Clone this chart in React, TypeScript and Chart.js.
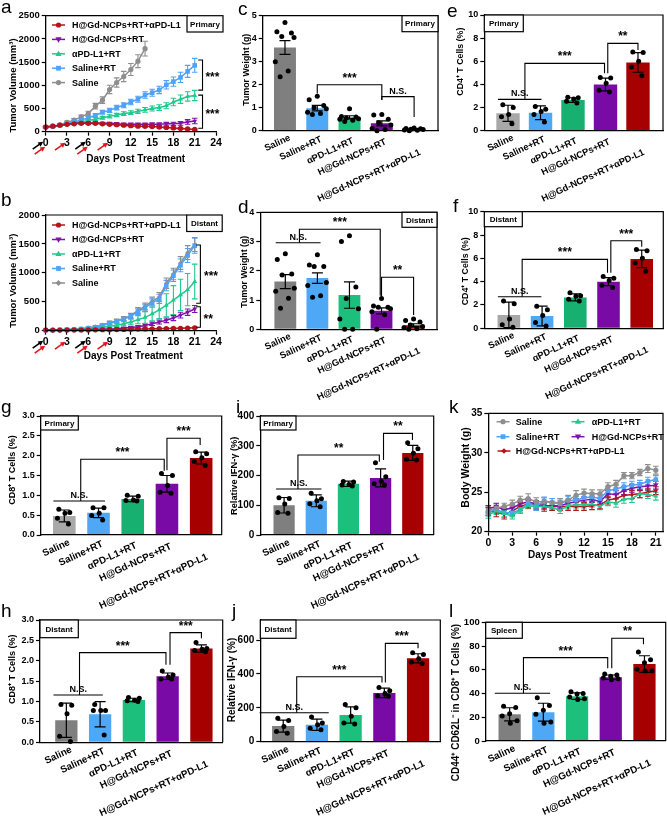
import React, { useEffect, useRef } from 'react';
import { Chart, registerables } from 'chart.js';

Chart.register(...registerables);

const FONT = "'Liberation Sans', Arial, Helvetica, sans-serif";
Chart.defaults.font.family = FONT;
Chart.defaults.color = '#000';

// ---------------- categories & ticks ----------------
const groups = ['Saline', 'Saline+RT', 'αPD-L1+RT', 'H@Gd-NCPs+RT', 'H@Gd-NCPs+RT+αPD-L1'];
const days = [0, 1, 2, 3, 4, 5, 6, 7, 8, 9, 10, 11, 12, 13, 14, 15, 16, 17, 18, 19, 20, 21];
const tumorDayTicks = [0, 3, 6, 9, 12, 15, 18, 21, 24];
const weightDayTicks = [0, 3, 6, 9, 12, 15, 18, 21];
const aYTicks = [0, 500, 1000, 1500, 2000, 2500];
const bYTicks = [0, 500, 1000, 1500, 2000];
const cYTicks = [0, 1, 2, 3, 4, 5];
const dYTicks = [0, 1, 2, 3, 4];
const cd4Ticks = [0, 2, 4, 6, 8, 10];
const cd8Ticks = [0, 0.5, 1, 1.5, 2, 2.5, 3];
const iYTicks = [0, 100, 200, 300, 400];
const jYTicks = [0, 200, 400, 600];
const kYTicks = [20, 25, 30, 35];
const lYTicks = [0, 20, 40, 60, 80, 100];
const blackArrowDays = [0, 6];
const redArrowDays = [0, 3, 6, 9];

// ---------------- panel a: primary tumor volume ----------------
const aCombo = [100, 120, 140, 160, 170, 180, 180, 180, 170, 160, 150, 140, 130, 120, 115, 110, 100, 90, 80, 70, 60, 50];
const aComboErr = [15, 15, 15, 15, 20, 20, 20, 20, 20, 20, 20, 20, 20, 20, 20, 20, 20, 20, 20, 20, 15, 15];
const aNCP = [100, 120, 140, 160, 180, 190, 190, 190, 180, 180, 170, 160, 160, 160, 160, 160, 160, 170, 170, 180, 210, 230];
const aNCPErr = [15, 15, 15, 20, 20, 20, 25, 25, 25, 25, 25, 25, 25, 25, 25, 30, 30, 30, 35, 40, 50, 60];
const aAPD = [100, 115, 135, 160, 190, 210, 240, 270, 300, 330, 360, 390, 410, 440, 470, 500, 520, 560, 640, 700, 760, 780];
const aAPDErr = [15, 15, 15, 20, 20, 25, 25, 30, 30, 35, 35, 40, 40, 45, 50, 55, 60, 65, 80, 90, 100, 110];
const aSalRT = [100, 120, 140, 170, 210, 250, 300, 350, 420, 460, 520, 570, 640, 700, 790, 840, 900, 1010, 1080, 1170, 1300, 1430];
const aSalRTErr = [15, 15, 20, 20, 25, 30, 30, 35, 40, 45, 50, 55, 60, 65, 70, 75, 80, 90, 100, 110, 130, 150];
const aSal = [100, 120, 150, 200, 250, 320, 390, 550, 680, 910, 1060, 1190, 1340, 1520, 1790];
const aSalErr = [15, 20, 25, 30, 35, 40, 50, 60, 70, 90, 100, 110, 130, 140, 160];

// ---------------- panel b: distant tumor volume ----------------
const bCombo = [10, 10, 10, 10, 12, 12, 14, 15, 16, 18, 20, 22, 25, 28, 30, 32, 35, 38, 40, 42, 45, 50];
const bComboErr = [3, 3, 3, 3, 4, 4, 4, 5, 5, 5, 5, 6, 6, 6, 7, 7, 8, 8, 8, 9, 9, 10];
const bNCP = [10, 10, 10, 12, 15, 18, 20, 22, 25, 30, 35, 45, 55, 70, 90, 120, 150, 180, 220, 270, 320, 375];
const bNCPErr = [3, 3, 3, 4, 5, 5, 6, 6, 8, 8, 10, 12, 15, 20, 25, 30, 35, 40, 45, 50, 55, 60];
const bAPD = [10, 10, 12, 15, 20, 25, 35, 45, 55, 75, 95, 120, 150, 190, 230, 290, 360, 440, 530, 620, 710, 850];
const bAPDErr = [3, 3, 4, 5, 6, 8, 10, 12, 15, 20, 25, 35, 50, 70, 100, 120, 150, 200, 250, 270, 280, 300];
const bSalRT = [10, 10, 15, 20, 25, 30, 45, 60, 90, 130, 160, 200, 250, 330, 400, 480, 550, 780, 950, 1130, 1300, 1470];
const bSalRTErr = [3, 3, 5, 5, 8, 10, 12, 15, 20, 25, 30, 35, 40, 50, 60, 70, 80, 90, 100, 110, 120, 130];
const bSal = [10, 10, 15, 20, 25, 35, 50, 70, 100, 140, 170, 210, 260, 350, 420, 510, 580, 820, 980, 1170, 1350, 1490];
const bSalErr = [3, 3, 5, 5, 8, 10, 12, 15, 20, 25, 30, 35, 40, 50, 60, 70, 80, 90, 100, 110, 120, 120];

// ---------------- panel k: body weight ----------------
const kSal = [22.7, 23.0, 23.2, 23.5, 24.0, 24.2, 23.8, 23.8, 23.7, 23.7, 24.0, 24.6, 24.9, 24.8, 24.8, 25.7, 26.0, 27.1, 27.1, 27.5, 28.0, 27.8];
const kSalErr = [0.4, 0.5, 0.4, 0.5, 0.5, 0.6, 0.5, 0.5, 0.5, 0.5, 0.6, 0.6, 0.5, 0.5, 0.5, 0.5, 0.5, 0.4, 0.4, 0.4, 0.5, 0.5];
const kSalRT = [22.5, 22.8, 22.4, 22.4, 22.8, 23.6, 23.2, 23.9, 23.7, 23.5, 24.0, 24.0, 24.3, 24.4, 24.2, 25.2, 25.4, 25.7, 25.9, 26.0, 26.4, 26.6];
const kSalRTErr = [0.5, 0.5, 0.6, 0.5, 0.5, 0.5, 0.5, 0.5, 0.5, 0.5, 0.5, 0.5, 0.5, 0.5, 0.5, 0.5, 0.5, 0.5, 0.5, 0.5, 0.5, 0.5];
const kAPD = [22.1, 22.6, 22.3, 22.0, 22.8, 23.3, 23.2, 23.2, 23.1, 22.7, 23.3, 23.4, 23.4, 23.5, 23.2, 23.8, 23.6, 24.1, 24.2, 24.8, 24.7, 24.5];
const kAPDErr = [0.4, 0.4, 0.4, 0.4, 0.4, 0.4, 0.4, 0.4, 0.4, 0.4, 0.4, 0.4, 0.4, 0.4, 0.4, 0.5, 0.5, 0.5, 0.5, 0.5, 0.5, 0.5];
const kNCP = [22.9, 23.2, 22.8, 23.0, 23.5, 23.8, 23.5, 23.3, 23.3, 23.3, 23.6, 23.8, 24.0, 24.1, 23.8, 24.8, 24.7, 25.2, 25.5, 25.7, 25.8, 25.9];
const kNCPErr = [0.4, 0.4, 0.4, 0.4, 0.4, 0.4, 0.4, 0.4, 0.4, 0.4, 0.4, 0.4, 0.4, 0.4, 0.4, 0.5, 0.5, 0.5, 0.5, 0.5, 0.5, 0.5];
const kCombo = [22.6, 22.5, 22.2, 22.6, 23.2, 23.5, 23.4, 23.1, 23.2, 23.2, 23.2, 23.2, 23.2, 23.3, 23.4, 24.0, 24.2, 24.6, 24.7, 24.8, 25.0, 25.2];
const kComboErr = [0.5, 0.6, 0.6, 0.5, 0.5, 0.5, 0.5, 0.5, 0.5, 0.5, 0.5, 0.5, 0.5, 0.5, 0.5, 0.5, 0.5, 0.5, 0.5, 0.5, 0.5, 0.5];

// ---------------- bar panels (mean, error, individual points) ----------------
const cMean = [3.62, 0.98, 0.58, 0.32, 0.06];
const cErr = [0.30, 0.12, 0.07, 0.11, 0.02];
const cDots = [[4.7, 4.3, 4.25, 4.1, 4.05, 3.0, 2.6, 2.35], [1.5, 1.35, 1.1, 1.0, 0.95, 0.8, 0.75, 0.7], [0.95, 0.62, 0.6, 0.55, 0.52, 0.5, 0.45, 0.4], [0.7, 0.68, 0.5, 0.35, 0.25, 0.1, 0.05, 0.0], [0.12, 0.1, 0.08, 0.06, 0.05, 0.03, 0.02, 0.0]];

const dMean = [1.63, 1.75, 1.17, 0.63, 0.14];
const dErr = [0.24, 0.18, 0.45, 0.1, 0.05];
const dDots = [[2.58, 2.39, 1.89, 1.86, 1.4, 1.3, 1.06, 0.72], [2.55, 2.2, 2.15, 2.15, 1.6, 1.5, 1.15, 1.1], [3.2, 3.0, 1.45, 1.05, 0.7, 0.35, 0.0, 0.0], [1.05, 0.8, 0.75, 0.75, 0.7, 0.6, 0.5, 0.0], [0.35, 0.3, 0.25, 0.15, 0.1, 0.05, 0.02, 0.0]];

const eMean = [1.5, 1.55, 2.65, 4.0, 5.9];
const eErr = [0.7, 0.6, 0.2, 0.55, 0.85];
const eDots = [[2.25, 2.0, 1.4, 1.2, 0.6], [2.1, 1.85, 1.65, 1.4, 0.75], [2.9, 2.85, 2.75, 2.55, 2.4], [4.6, 4.55, 4.1, 3.5, 3.35], [6.8, 6.75, 6.0, 5.5, 4.75]];

const fMean = [1.15, 1.05, 2.65, 4.0, 5.95];
const fErr = [1.1, 0.85, 0.3, 0.35, 0.75];
const fDots = [[2.35, 2.1, 0.8, 0.3, 0.1], [1.9, 1.6, 1.1, 0.5, 0.2], [3.05, 2.8, 2.75, 2.5, 2.35], [4.45, 4.3, 4.1, 3.7, 3.5], [6.75, 6.65, 6.0, 5.6, 4.9]];

const gMean = [0.48, 0.56, 0.91, 1.29, 1.94];
const gErr = [0.15, 0.12, 0.07, 0.21, 0.15];
const gDots = [[0.65, 0.57, 0.55, 0.42, 0.28], [0.69, 0.69, 0.55, 0.49, 0.38], [1.0, 0.98, 0.88, 0.87, 0.86], [1.55, 1.5, 1.25, 1.08, 1.05], [2.1, 2.05, 1.95, 1.85, 1.75]];

const hMean = [0.54, 0.69, 1.04, 1.62, 2.3];
const hErr = [0.42, 0.31, 0.04, 0.08, 0.09];
const hDots = [[0.93, 0.91, 0.7, 0.15, 0.02], [0.93, 0.78, 0.78, 0.78, 0.18], [1.1, 1.08, 1.03, 1.02, 1.0], [1.75, 1.65, 1.6, 1.55, 1.55], [2.45, 2.3, 2.28, 2.25, 2.22]];

const iMean = [100, 115, 172, 192, 276];
const iErr = [26, 20, 9, 30, 25];
const iDots = [[125, 123, 104, 76, 73], [140, 122, 115, 105, 95], [180, 178, 170, 168, 165], [243, 196, 181, 172, 168], [310, 290, 275, 255, 252]];

const jMean = [92, 100, 157, 288, 492];
const jErr = [35, 33, 48, 28, 27];
const jDots = [[138, 125, 90, 60, 50], [145, 110, 100, 80, 70], [220, 200, 150, 110, 105], [320, 300, 285, 270, 268], [525, 515, 490, 470, 462]];

const lMean = [22.5, 24.3, 37.8, 53.8, 64.8];
const lErr = [5.5, 7.5, 2.8, 1.8, 7.0];
const lDots = [[29.3, 28.2, 23.0, 21.0, 17.0, 15.0], [36.5, 30.0, 26.0, 22.5, 16.0, 15.0], [41.5, 40.0, 39.5, 37.0, 35.5, 35.0], [56.5, 55.5, 54.5, 53.0, 52.5, 51.5], [75.0, 68.5, 66.0, 60.5, 59.0, 59.0]];

// ---------------- styles ----------------
const jit5 = [-0.16, 0.16, 0.02, -0.2, 0.12];
const jit6 = [-0.18, 0.18, 0.0, -0.22, 0.22, 0.02];
const jit8 = [0.0, -0.25, 0.2, -0.1, 0.28, -0.3, 0.1, -0.15];
// per-category anchor offsets (px) of the rotated category labels
const catOffset = [[3, 2.5], [2, 4], [1.5, 5.5], [2, 6.5], [4, 17]];

const LC = { combo: '#b5131b', ncp: '#7f13ad', apd: '#20c98d', salrt: '#4fa2f7', sal: '#8e8e8e' };
const barDark = ['#7f7f7f', '#4fa8f6', '#1cbf7b', '#7a0aa5', '#a60000'];
const barLight = ['#a8a8a8', '#4fa8f6', '#18b070', '#7a0aa5', '#a60000'];

// ---------------- drawing helpers ----------------
function txt(ctx: any, s: string, x: number, y: number, size: number, o: any = {}) {
  ctx.save();
  ctx.font = `${o.weight || 'bold'} ${size}px ${FONT}`;
  ctx.fillStyle = o.color || '#000';
  ctx.textAlign = o.align || 'center';
  ctx.textBaseline = o.baseline || 'alphabetic';
  ctx.translate(x, y);
  if (o.rot) ctx.rotate(o.rot);
  ctx.fillText(s, 0, 0);
  ctx.restore();
}

function marker(ctx: any, style: string, x: number, y: number, r: number, color: string) {
  ctx.save();
  ctx.fillStyle = color;
  ctx.beginPath();
  if (style === 'circle') ctx.arc(x, y, r, 0, Math.PI * 2);
  else if (style === 'rect') ctx.rect(x - r, y - r, 2 * r, 2 * r);
  else if (style === 'triangle') { ctx.moveTo(x, y - r * 1.2); ctx.lineTo(x + r * 1.1, y + r * 0.75); ctx.lineTo(x - r * 1.1, y + r * 0.75); ctx.closePath(); }
  else if (style === 'triangleDown') { ctx.moveTo(x, y + r * 1.2); ctx.lineTo(x + r * 1.1, y - r * 0.75); ctx.lineTo(x - r * 1.1, y - r * 0.75); ctx.closePath(); }
  else if (style === 'rectRot') { ctx.moveTo(x, y - r * 1.3); ctx.lineTo(x + r * 1.3, y); ctx.lineTo(x, y + r * 1.3); ctx.lineTo(x - r * 1.3, y); ctx.closePath(); }
  ctx.fill();
  ctx.restore();
}

function drawTag(ctx: any, tag: any, box: any) {
  if (!tag) return;
  const x = tag.x - box.left, y = tag.y - box.top;
  ctx.save();
  ctx.fillStyle = '#fff';
  ctx.fillRect(x, y, tag.w, tag.h);
  ctx.strokeStyle = '#000';
  ctx.lineWidth = 1.2;
  ctx.strokeRect(x, y, tag.w, tag.h);
  ctx.restore();
  txt(ctx, tag.text, x + tag.w / 2, y + tag.h / 2 + 0.5, 8, { baseline: 'middle' });
}

function drawBracket(ctx: any, xs: any, ys: any, br: any) {
  const x1 = xs.getPixelForValue(br.x1), x2 = xs.getPixelForValue(br.x2), yt = ys.getPixelForValue(br.y);
  ctx.save();
  ctx.strokeStyle = '#000';
  ctx.lineWidth = 1.1;
  ctx.beginPath();
  ctx.moveTo(x1, ys.getPixelForValue(br.y1));
  ctx.lineTo(x1, yt);
  ctx.lineTo(x2, yt);
  ctx.lineTo(x2, ys.getPixelForValue(br.y2));
  ctx.stroke();
  ctx.restore();
  const star = br.label.charAt(0) === '*';
  txt(ctx, br.label, (x1 + x2) / 2, yt - 3, star ? 12 : 9, {});
}

function arrow(ctx: any, tx: number, ty: number, color: string) {
  const dx = 10.5, dy = -7.5;
  const len = Math.hypot(dx, dy), ux = dx / len, uy = dy / len;
  ctx.save();
  ctx.strokeStyle = color; ctx.fillStyle = color; ctx.lineWidth = 1.6;
  ctx.beginPath();
  ctx.moveTo(tx - dx, ty - dy);
  ctx.lineTo(tx - ux * 3, ty - uy * 3);
  ctx.stroke();
  ctx.beginPath();
  ctx.moveTo(tx, ty);
  ctx.lineTo(tx - ux * 5 - uy * 2.6, ty - uy * 5 + ux * 2.6);
  ctx.lineTo(tx - ux * 5 + uy * 2.6, ty - uy * 5 - ux * 2.6);
  ctx.closePath();
  ctx.fill();
  ctx.restore();
}

function yAxisOpts(box: any, plot: any, min: number, max: number, ticks: number[], size: number, fmt?: any) {
  return {
    type: 'linear', position: 'left', min, max,
    afterBuildTicks: (sc: any) => { sc.ticks = ticks.map((v) => ({ value: v })); },
    afterFit: (sc: any) => { sc.width = plot.l - box.left; sc.paddingTop = 0; sc.paddingBottom = 0; },
    grid: { display: true, drawOnChartArea: false, drawTicks: true, tickLength: 4, tickWidth: 1.2, tickColor: '#000' },
    border: { display: true, color: '#000', width: 1.3, z: 1 },
    ticks: { color: '#000', padding: 2, autoSkip: false, font: { size, weight: 'bold', family: FONT }, callback: (v: number) => (fmt ? fmt(v) : String(v)) },
  };
}

function baseOptions(box: any, plot: any) {
  return {
    responsive: false, animation: false, devicePixelRatio: 1, events: [],
    layout: { padding: { top: plot.t - box.top, right: box.left + box.width - plot.r, left: 0, bottom: 0 } },
    plugins: { legend: { display: false }, tooltip: { enabled: false } },
  };
}

function makeBar(canvas: any, s: any) {
  const { box, plot } = s;
  const plugin = {
    id: 'barDecor',
    afterDatasetsDraw(chart: any) {
      const ctx = chart.ctx, xs = chart.scales.x, ys = chart.scales.y;
      ctx.save();
      ctx.strokeStyle = '#000';
      ctx.lineWidth = 1.2;
      s.mean.forEach((m: number, i: number) => {
        const px = xs.getPixelForValue(i);
        const t = ys.getPixelForValue(m + s.err[i]);
        const b = ys.getPixelForValue(Math.max(0, m - s.err[i]));
        ctx.beginPath();
        ctx.moveTo(px, t); ctx.lineTo(px, b);
        ctx.moveTo(px - 5.5, t); ctx.lineTo(px + 5.5, t);
        ctx.moveTo(px - 5.5, b); ctx.lineTo(px + 5.5, b);
        ctx.stroke();
      });
      ctx.restore();
      s.dots.forEach((arr: number[], i: number) => {
        const jit = arr.length === 8 ? jit8 : arr.length === 6 ? jit6 : jit5;
        arr.forEach((v: number, k: number) => {
          marker(ctx, 'circle', xs.getPixelForValue(i + jit[k]), ys.getPixelForValue(v), 2.5, '#000');
        });
      });
    },
    afterDraw(chart: any) {
      const ctx = chart.ctx, xs = chart.scales.x, ys = chart.scales.y, ca = chart.chartArea;
      ctx.save();
      ctx.strokeStyle = '#000';
      ctx.lineWidth = 1.2;
      ctx.beginPath();
      ctx.moveTo(ca.left, ca.top); ctx.lineTo(ca.right, ca.top); ctx.lineTo(ca.right, ca.bottom);
      ctx.stroke();
      ctx.restore();
      drawTag(ctx, s.tag, box);
      s.brackets.forEach((br: any) => drawBracket(ctx, xs, ys, br));
      groups.forEach((g, i) => txt(ctx, g, xs.getPixelForValue(i) + catOffset[i][0], ca.bottom + catOffset[i][1], s.catSize, { align: 'right', baseline: 'top', rot: (-25 * Math.PI) / 180 }));
      txt(ctx, s.yTitle, s.yTitlePos[0] - box.left, s.yTitlePos[1] - box.top, s.yTitleSize, { rot: -Math.PI / 2, baseline: 'middle' });
    },
  };
  const opts: any = baseOptions(box, plot);
  opts.scales = {
    x: {
      type: 'linear', min: s.xMin, max: s.xMax, offset: false,
      grid: { display: false }, ticks: { display: false },
      border: { display: true, color: '#000', width: 1.3, z: 1 },
      afterFit: (sc: any) => { sc.height = box.top + box.height - plot.b; sc.paddingLeft = 0; sc.paddingRight = 0; },
    },
    y: yAxisOpts(box, plot, s.yMin, s.yMax, s.yTicks, s.tickSize, s.yFmt),
  };
  return new Chart(canvas, {
    type: 'bar',
    data: { datasets: [{ data: s.mean.map((m: number, i: number) => ({ x: i, y: m })), backgroundColor: s.colors, borderWidth: 0, barPercentage: s.barPct, categoryPercentage: 1 }] },
    options: opts,
    plugins: [plugin],
  } as any);
}

function makeLine(canvas: any, s: any) {
  const { box, plot } = s;
  const plugin = {
    id: 'lineDecor',
    beforeDatasetsDraw(chart: any) {
      const ctx = chart.ctx, xs = chart.scales.x, ys = chart.scales.y;
      ctx.save();
      ctx.lineWidth = 1.1;
      s.series.forEach((se: any) => {
        ctx.strokeStyle = se.color;
        se.mean.forEach((m: number, i: number) => {
          const px = xs.getPixelForValue(days[i]);
          const t = ys.getPixelForValue(m + se.err[i]);
          const b = ys.getPixelForValue(m - se.err[i]);
          ctx.beginPath();
          ctx.moveTo(px, t); ctx.lineTo(px, b);
          ctx.moveTo(px - 2.8, t); ctx.lineTo(px + 2.8, t);
          ctx.moveTo(px - 2.8, b); ctx.lineTo(px + 2.8, b);
          ctx.stroke();
        });
      });
      ctx.restore();
    },
    afterDraw(chart: any) {
      const ctx = chart.ctx, xs = chart.scales.x, ys = chart.scales.y, ca = chart.chartArea;
      ctx.save();
      ctx.strokeStyle = '#000';
      ctx.lineWidth = 1.2;
      ctx.beginPath();
      if (s.frame === 'full') {
        ctx.moveTo(ca.left, ca.top); ctx.lineTo(ca.right, ca.top); ctx.lineTo(ca.right, ca.bottom);
      } else {
        ctx.moveTo(ca.left, ca.top); ctx.lineTo(s.tag.x - box.left, ca.top);
      }
      ctx.stroke();
      ctx.restore();
      drawTag(ctx, s.tag, box);
      // legend
      s.legend.forEach((it: any) => {
        const se = s.series[it.idx];
        const mx = it.mx - box.left, y = it.y - box.top;
        ctx.save();
        ctx.strokeStyle = se.color; ctx.lineWidth = 1.5;
        ctx.beginPath(); ctx.moveTo(mx - 6.5, y); ctx.lineTo(mx + 6.5, y); ctx.stroke();
        ctx.restore();
        marker(ctx, se.ps, mx, y, se.r, se.color);
        txt(ctx, se.name, it.tx - box.left, y + 0.5, s.legendSize, { align: 'left', baseline: 'middle' });
      });
      // side brackets
      (s.side || []).forEach((br: any) => {
        const x = xs.getPixelForValue(br.x), x0 = xs.getPixelForValue(br.x0);
        const y1 = ys.getPixelForValue(br.y1), y2 = ys.getPixelForValue(br.y2);
        ctx.save();
        ctx.strokeStyle = '#000'; ctx.lineWidth = 1.1;
        ctx.beginPath(); ctx.moveTo(x0, y1); ctx.lineTo(x, y1); ctx.lineTo(x, y2); ctx.lineTo(x0, y2); ctx.stroke();
        ctx.restore();
        txt(ctx, br.label, xs.getPixelForValue(br.lx), (y1 + y2) / 2 + 6, 12, {});
      });
      // treatment arrows
      if (s.arrows) {
        blackArrowDays.forEach((d) => arrow(ctx, xs.getPixelForValue(d) - 2.5, ca.bottom + 10, '#000'));
        redArrowDays.forEach((d) => {
          const paired = blackArrowDays.indexOf(d) >= 0;
          arrow(ctx, xs.getPixelForValue(d) - (paired ? 0.5 : 1.5), ca.bottom + (paired ? 15 : 11), '#e8141c');
        });
      }
      txt(ctx, s.yTitle, s.yTitlePos[0] - box.left, s.yTitlePos[1] - box.top, s.yTitleSize, { rot: -Math.PI / 2, baseline: 'middle' });
      txt(ctx, s.xTitle, s.xTitlePos[0] - box.left, s.xTitlePos[1] - box.top, s.xTitleSize, { baseline: 'middle' });
    },
  };
  const opts: any = baseOptions(box, plot);
  opts.scales = {
    x: {
      type: 'linear', min: s.xMin, max: s.xMax, offset: false,
      afterBuildTicks: (sc: any) => { sc.ticks = s.xTicks.map((v: number) => ({ value: v })); },
      afterFit: (sc: any) => { sc.height = box.top + box.height - plot.b; sc.paddingLeft = 0; sc.paddingRight = 0; },
      grid: { display: true, drawOnChartArea: false, drawTicks: true, tickLength: 4, tickWidth: 1.2, tickColor: '#000' },
      border: { display: true, color: '#000', width: 1.3, z: 1 },
      ticks: { color: '#000', padding: 1, autoSkip: false, maxRotation: 0, minRotation: 0, font: { size: s.xTickSize, weight: 'bold', family: FONT }, callback: (v: number) => String(v) },
    },
    y: yAxisOpts(box, plot, s.yMin, s.yMax, s.yTicks, s.tickSize),
  };
  const datasets = s.series.map((se: any) => ({
    data: se.mean.map((v: number, i: number) => ({ x: days[i], y: v })),
    borderColor: se.color, backgroundColor: se.color, borderWidth: 1.5,
    pointStyle: se.ps === 'triangleDown' ? 'triangle' : se.ps,
    pointRotation: se.ps === 'triangleDown' ? 180 : 0,
    pointRadius: se.ps === 'rect' ? se.r * 1.35 : se.r, pointBorderWidth: 0, pointBackgroundColor: se.color,
    clip: false, tension: 0,
  }));
  return new Chart(canvas, { type: 'line', data: { datasets }, options: opts, plugins: [plugin] } as any);
}

// ---------------- panel specs ----------------
const fmt1 = (v: number) => v.toFixed(1);

const aSeries = [
  { name: 'H@Gd-NCPs+RT+αPD-L1', color: LC.combo, mean: aCombo, err: aComboErr, ps: 'circle', r: 2.6 },
  { name: 'H@Gd-NCPs+RT', color: LC.ncp, mean: aNCP, err: aNCPErr, ps: 'triangleDown', r: 2.8 },
  { name: 'αPD-L1+RT', color: LC.apd, mean: aAPD, err: aAPDErr, ps: 'triangle', r: 2.8 },
  { name: 'Saline+RT', color: LC.salrt, mean: aSalRT, err: aSalRTErr, ps: 'rect', r: 2.4 },
  { name: 'Saline', color: LC.sal, mean: aSal, err: aSalErr, ps: 'circle', r: 2.6 },
];
const bSeries = [
  { name: 'H@Gd-NCPs+RT+αPD-L1', color: LC.combo, mean: bCombo, err: bComboErr, ps: 'circle', r: 2.6 },
  { name: 'H@Gd-NCPs+RT', color: LC.ncp, mean: bNCP, err: bNCPErr, ps: 'triangleDown', r: 2.8 },
  { name: 'αPD-L1+RT', color: LC.apd, mean: bAPD, err: bAPDErr, ps: 'triangle', r: 2.8 },
  { name: 'Saline+RT', color: LC.salrt, mean: bSalRT, err: bSalRTErr, ps: 'rect', r: 2.4 },
  { name: 'Saline', color: LC.sal, mean: bSal, err: bSalErr, ps: 'rectRot', r: 2.3 },
];
const kSeries = [
  { name: 'Saline', color: LC.sal, mean: kSal, err: kSalErr, ps: 'circle', r: 2.6 },
  { name: 'αPD-L1+RT', color: LC.apd, mean: kAPD, err: kAPDErr, ps: 'triangle', r: 2.8 },
  { name: 'Saline+RT', color: LC.salrt, mean: kSalRT, err: kSalRTErr, ps: 'rect', r: 2.4 },
  { name: 'H@Gd-NCPs+RT', color: LC.ncp, mean: kNCP, err: kNCPErr, ps: 'triangleDown', r: 2.8 },
  { name: 'H@Gd-NCPs+RT+αPD-L1', color: LC.combo, mean: kCombo, err: kComboErr, ps: 'rectRot', r: 2.2 },
];

const panels: any[] = [
  {
    id: 'a', kind: 'line', box: { left: 0, top: 0, width: 225, height: 172 }, plot: { l: 45.7, t: 15.7, r: 216, b: 131.7 },
    xMin: 0, xMax: 24, xTicks: tumorDayTicks, yMin: 0, yMax: 2500, yTicks: aYTicks, tickSize: 9.5, xTickSize: 10.5,
    series: aSeries, frame: 'top', arrows: true, legendSize: 9,
    legend: [0, 1, 2, 3, 4].map((idx) => ({ idx, mx: 58.5, tx: 72, y: 25 + idx * 14.4 })),
    tag: { x: 187, y: 15.7, w: 36, h: 16.3, text: 'Primary' },
    side: [
      { x: 22.1, x0: 21.5, y1: 1545, y2: 896, label: '***', lx: 23.5 },
      { x: 22.1, x0: 21.5, y1: 789, y2: 73, label: '***', lx: 23.5 },
    ],
    yTitle: 'Tumor Volume (mm³)', yTitlePos: [13.3, 85.5], yTitleSize: 9.5,
    xTitle: 'Days Post Treatment', xTitlePos: [135.7, 159.3], xTitleSize: 10,
  },
  {
    id: 'b', kind: 'line', box: { left: 0, top: 200, width: 225, height: 172 }, plot: { l: 45.7, t: 215, r: 216, b: 330.7 },
    xMin: 0, xMax: 24, xTicks: tumorDayTicks, yMin: 0, yMax: 2000, yTicks: bYTicks, tickSize: 9.5, xTickSize: 10.5,
    series: bSeries, frame: 'top', arrows: true, legendSize: 9,
    legend: [0, 1, 2, 3, 4].map((idx) => ({ idx, mx: 58.5, tx: 72, y: 225 + idx * 14.5 })),
    tag: { x: 186.7, y: 215, w: 35.5, h: 16.5, text: 'Distant' },
    side: [
      { x: 21.8, x0: 21.2, y1: 1481, y2: 474, label: '***', lx: 23.3 },
      { x: 21.8, x0: 21.2, y1: 415, y2: 59, label: '**', lx: 22.9 },
    ],
    yTitle: 'Tumor Volume (mm³)', yTitlePos: [13.3, 280.7], yTitleSize: 9.5,
    xTitle: 'Days Post Treatment', xTitlePos: [133.3, 356.7], xTitleSize: 10,
  },
  {
    id: 'c', kind: 'bar', box: { left: 222, top: 0, width: 223, height: 205 }, plot: { l: 262.7, t: 15.7, r: 438, b: 130.7 },
    xMin: -0.69, xMax: 4.74, barPct: 0.68, yMin: 0, yMax: 5, yTicks: cYTicks, tickSize: 9, catSize: 9.3,
    mean: cMean, err: cErr, dots: cDots, colors: barDark,
    tag: { x: 402, y: 15.7, w: 36, h: 16, text: 'Primary' },
    brackets: [
      { x1: 1, x2: 3, y: 2.0, y1: 1.62, y2: 1.33, label: '***' },
      { x1: 3, x2: 4, y: 1.48, y1: 1.33, y2: 0.6, label: 'N.S.' },
    ],
    yTitle: 'Tumor Weight (g)', yTitlePos: [247, 69.7], yTitleSize: 8.8,
  },
  {
    id: 'd', kind: 'bar', box: { left: 222, top: 200, width: 223, height: 205 }, plot: { l: 260.3, t: 212.3, r: 437, b: 329.3 },
    xMin: -0.78, xMax: 4.73, barPct: 0.68, yMin: 0, yMax: 4, yTicks: dYTicks, tickSize: 9, catSize: 9.3,
    mean: dMean, err: dErr, dots: dDots, colors: barDark,
    tag: { x: 402, y: 212.3, w: 35, h: 15, text: 'Distant' },
    brackets: [
      { x1: -0.3, x2: 1.1, y: 2.96, y1: 2.96, y2: 2.96, label: 'N.S.' },
      { x1: 0.44, x2: 2.96, y: 3.42, y1: 2.96, y2: 1.15, label: '***' },
      { x1: 3, x2: 4, y: 1.78, y1: 1.12, y2: 0.49, label: '**' },
    ],
    yTitle: 'Tumor Weight (g)', yTitlePos: [244.5, 271.7], yTitleSize: 8.8,
  },
  {
    id: 'e', kind: 'bar', box: { left: 445, top: 0, width: 222, height: 205 }, plot: { l: 484.3, t: 15, r: 663, b: 130.7 },
    xMin: -0.73, xMax: 4.77, barPct: 0.72, yMin: 0, yMax: 10, yTicks: cd4Ticks, tickSize: 9, catSize: 9.3,
    mean: eMean, err: eErr, dots: eDots, colors: barLight,
    tag: { x: 484.3, y: 15, w: 39, h: 16.7, text: 'Primary' },
    brackets: [
      { x1: -0.31, x2: 1.03, y: 2.71, y1: 2.71, y2: 2.71, label: 'N.S.' },
      { x1: 0.52, x2: 2.97, y: 5.82, y1: 2.71, y2: 4.96, label: '***' },
      { x1: 3.07, x2: 4.0, y: 7.55, y1: 4.96, y2: 6.97, label: '**' },
    ],
    yTitle: 'CD4⁺ T Cells (%)', yTitlePos: [461, 61.7], yTitleSize: 8.8,
  },
  {
    id: 'f', kind: 'bar', box: { left: 445, top: 200, width: 222, height: 205 }, plot: { l: 484.3, t: 211.7, r: 663.3, b: 328.3 },
    xMin: -0.74, xMax: 4.65, barPct: 0.68, yMin: 0, yMax: 10, yTicks: cd4Ticks, tickSize: 9, catSize: 9.3,
    mean: fMean, err: fErr, dots: fDots, colors: barLight,
    tag: { x: 484.3, y: 211.7, w: 38, h: 15, text: 'Distant' },
    brackets: [
      { x1: -0.33, x2: 0.98, y: 2.71, y1: 2.71, y2: 2.71, label: 'N.S.' },
      { x1: 0.4, x2: 2.97, y: 5.91, y1: 2.71, y2: 4.77, label: '***' },
      { x1: 3.07, x2: 4.0, y: 7.51, y1: 4.77, y2: 7.0, label: '***' },
    ],
    yTitle: 'CD4⁺ T Cells (%)', yTitlePos: [465.8, 271.3], yTitleSize: 8.8,
  },
  {
    id: 'g', kind: 'bar', box: { left: 0, top: 405, width: 225, height: 205 }, plot: { l: 40.7, t: 416, r: 221.7, b: 535 },
    xMin: -0.69, xMax: 4.6, barPct: 0.66, yMin: 0, yMax: 3, yTicks: cd8Ticks, yFmt: fmt1, tickSize: 9, catSize: 9.8,
    mean: gMean, err: gErr, dots: gDots, colors: barLight,
    tag: { x: 40.7, y: 416, w: 37.6, h: 14, text: 'Primary' },
    brackets: [
      { x1: -0.32, x2: 1.19, y: 0.857, y1: 0.857, y2: 0.857, label: 'N.S.' },
      { x1: 0.48, x2: 2.92, y: 1.91, y1: 0.857, y2: 1.62, label: '***' },
      { x1: 3.0, x2: 3.97, y: 2.44, y1: 1.63, y2: 2.27, label: '***' },
    ],
    yTitle: 'CD8⁺ T Cells (%)', yTitlePos: [12.5, 470], yTitleSize: 9,
  },
  {
    id: 'h', kind: 'bar', box: { left: 0, top: 605, width: 225, height: 212 }, plot: { l: 40, t: 620, r: 222.7, b: 742.3 },
    xMin: -0.78, xMax: 4.63, barPct: 0.66, yMin: 0, yMax: 3, yTicks: cd8Ticks, yFmt: fmt1, tickSize: 9, catSize: 9.8,
    mean: hMean, err: hErr, dots: hDots, colors: barDark,
    tag: { x: 40, y: 620, w: 38.3, h: 17.7, text: 'Distant' },
    brackets: [
      { x1: -0.38, x2: 1.08, y: 1.16, y1: 1.16, y2: 1.16, label: 'N.S.' },
      { x1: 0.39, x2: 2.95, y: 2.2, y1: 1.16, y2: 1.9, label: '***' },
      { x1: 3.07, x2: 4.0, y: 2.69, y1: 1.9, y2: 2.55, label: '***' },
    ],
    yTitle: 'CD8⁺ T Cells (%)', yTitlePos: [12.5, 669.2], yTitleSize: 9,
  },
  {
    id: 'i', kind: 'bar', box: { left: 222, top: 405, width: 223, height: 205 }, plot: { l: 260.3, t: 416, r: 433.7, b: 535 },
    xMin: -0.74, xMax: 4.65, barPct: 0.66, yMin: 0, yMax: 400, yTicks: iYTicks, tickSize: 10, catSize: 9.8,
    mean: iMean, err: iErr, dots: iDots, colors: barDark,
    tag: { x: 260.3, y: 416, w: 35.7, h: 14, text: 'Primary' },
    brackets: [
      { x1: -0.25, x2: 1.16, y: 154.6, y1: 154.6, y2: 154.6, label: 'N.S.' },
      { x1: 0.43, x2: 2.96, y: 269, y1: 154.6, y2: 246.5, label: '**' },
      { x1: 3.09, x2: 3.99, y: 341.7, y1: 252, y2: 319, label: '**' },
    ],
    yTitle: 'Relative IFN-γ (%)', yTitlePos: [234.5, 475.8], yTitleSize: 9.3,
  },
  {
    id: 'j', kind: 'bar', box: { left: 222, top: 605, width: 223, height: 212 }, plot: { l: 260.3, t: 620, r: 440.3, b: 741.7 },
    xMin: -0.68, xMax: 4.66, barPct: 0.66, yMin: 0, yMax: 718, yTicks: jYTicks, tickSize: 10, catSize: 9.8,
    mean: jMean, err: jErr, dots: jDots, colors: barDark,
    tag: { x: 260.3, y: 620, w: 35.7, h: 18.3, text: 'Distant' },
    brackets: [
      { x1: -0.7, x2: 1.35, y: 171, y1: 171, y2: 171, label: 'N.S.' },
      { x1: 0.4, x2: 2.93, y: 383.6, y1: 171, y2: 350, label: '***' },
      { x1: 3.03, x2: 4.0, y: 580, y1: 350, y2: 551, label: '***' },
    ],
    yTitle: 'Relative IFN-γ (%)', yTitlePos: [232, 680], yTitleSize: 10,
  },
  {
    id: 'k', kind: 'line', box: { left: 445, top: 405, width: 222, height: 160 }, plot: { l: 488.3, t: 413.3, r: 663.3, b: 531.7 },
    xMin: 0, xMax: 21.9, xTicks: weightDayTicks, yMin: 20, yMax: 35, yTicks: kYTicks, tickSize: 10, xTickSize: 10.5,
    series: kSeries, frame: 'full', arrows: false, legendSize: 9,
    legend: [
      { idx: 0, mx: 503, tx: 515.7, y: 421.7 },
      { idx: 1, mx: 578, tx: 591.7, y: 421.7 },
      { idx: 2, mx: 503, tx: 515.7, y: 436.7 },
      { idx: 3, mx: 578, tx: 591.7, y: 436.7 },
      { idx: 4, mx: 504, tx: 515.7, y: 451 },
    ],
    tag: null,
    yTitle: 'Body Weight (g)', yTitlePos: [465.8, 467.5], yTitleSize: 10.5,
    xTitle: 'Days Post Treatment', xTitlePos: [577.5, 555.7], xTitleSize: 10,
  },
  {
    id: 'l', kind: 'bar', box: { left: 445, top: 605, width: 222, height: 212 }, plot: { l: 485.7, t: 622.3, r: 665.7, b: 741 },
    xMin: -0.71, xMax: 4.63, barPct: 0.66, yMin: 0, yMax: 100, yTicks: lYTicks, tickSize: 9.5, catSize: 9.8,
    mean: lMean, err: lErr, dots: lDots, colors: barDark,
    tag: { x: 485.7, y: 622.3, w: 36.6, h: 16, text: 'Spleen' },
    brackets: [
      { x1: -0.44, x2: 1.2, y: 40.2, y1: 40.2, y2: 40.2, label: 'N.S.' },
      { x1: 0.41, x2: 2.91, y: 70.2, y1: 40.2, y2: 61.2, label: '***' },
      { x1: 3.03, x2: 3.97, y: 86.5, y1: 61.2, y2: 81.5, label: '**' },
    ],
    yTitle: 'CD44⁺ CD62L⁻ in CD8⁺ T Cells (%)', yTitlePos: [456.7, 702.5], yTitleSize: 10,
  },
];

const letters = [
  { t: 'a', x: 1, b: 13.5 }, { t: 'b', x: 1, b: 206.5 }, { t: 'c', x: 238, b: 15 }, { t: 'd', x: 238, b: 213 },
  { t: 'e', x: 447, b: 17 }, { t: 'f', x: 453, b: 212 }, { t: 'g', x: 1, b: 413 }, { t: 'h', x: 1, b: 617 },
  { t: 'i', x: 236, b: 413 }, { t: 'j', x: 232, b: 617 }, { t: 'k', x: 449, b: 413 }, { t: 'l', x: 449, b: 617 },
];

function ChartPanel({ spec }: any) {
  const ref = useRef<HTMLCanvasElement | null>(null);
  useEffect(() => {
    if (!ref.current) return;
    const chart = spec.kind === 'bar' ? makeBar(ref.current, spec) : makeLine(ref.current, spec);
    return () => chart.destroy();
  }, [spec]);
  const { box } = spec;
  return (
    <canvas
      ref={ref}
      width={box.width}
      height={box.height}
      style={{ position: 'absolute', left: box.left, top: box.top, width: box.width, height: box.height }}
    />
  );
}

export default function App() {
  return (
    <div style={{ position: 'absolute', left: 0, top: 0, width: 667, height: 817, background: '#fff', overflow: 'hidden' }}>
      {panels.map((p) => (
        <ChartPanel key={p.id} spec={p} />
      ))}
      {letters.map((l) => (
        <div key={l.t} style={{ position: 'absolute', left: l.x, top: l.b - 16.1, fontFamily: FONT, fontSize: 19, lineHeight: '19px', color: '#000' }}>
          {l.t}
        </div>
      ))}
    </div>
  );
}
